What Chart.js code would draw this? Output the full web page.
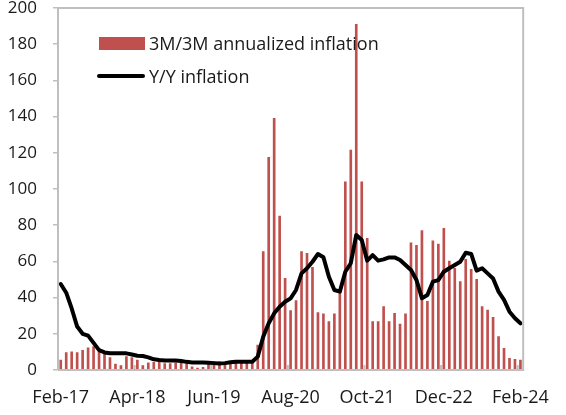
<!DOCTYPE html>
<html>
<head>
<meta charset="utf-8">
<script src="https://cdn.jsdelivr.net/npm/chart.js@4/dist/chart.umd.min.js"></script>
<style>
  body { margin: 0; background: #fff; }
  #wrap { position: relative; width: 566px; height: 415px; }
  .leg { position: absolute; font-family: "Open Sans", sans-serif; font-size: 18px; color: #1a1a1a; line-height: 20px; white-space: nowrap; }
  .sw-bar { position: absolute; left: 99px; top: 37px; width: 46px; height: 13px; background: #c0504d; }
  .sw-line { position: absolute; left: 97px; top: 74px; width: 48px; height: 4px; background: #000; border-radius: 2px; }
</style>
</head>
<body>
<div id="wrap">
  <canvas id="grafico"></canvas>
  <div class="sw-bar"></div>
  <div class="leg" style="left:149px; top:33px;">3M/3M annualized inflation</div>
  <div class="sw-line"></div>
  <div class="leg" style="left:149px; top:66px;">Y/Y inflation</div>
</div>
<script>
// meses de Feb-17 a Feb-24 (85 pontos mensais)
const nomesMes = ['Jan', 'Feb', 'Mar', 'Apr', 'May', 'Jun', 'Jul', 'Aug', 'Sep', 'Oct', 'Nov', 'Dec'];
const meses = [];
for (let i = 0; i < 85; i++) {
    const m = (1 + i) % 12;
    const a = 17 + Math.floor((1 + i) / 12);
    meses.push(nomesMes[m] + '-' + a);
}

// 3M/3M annualized inflation (barras)
const inflacao3m = [
    5.5, 9.6, 10.1, 9.6, 10.9, 12.2, 12.9, 10, 9.2, 6.8,
    3.3, 2.4, 7.4, 6.8, 5.5, 2.4, 4, 4.2, 4.2, 3.6,
    3.6, 4, 4, 4, 1.8, 1, 1.5, 3.5, 4.5, 4.5,
    3.5, 3.5, 4.5, 4.5, 4, 3.5, 13.8, 65.4, 117.5, 139,
    85, 50.6, 32.8, 38.3, 65.4, 64.5, 56.7, 31.7, 31, 26.7,
    31, 43, 104, 121.5, 191, 104, 72.7, 26.7, 26.7, 35,
    26.7, 31.3, 25.4, 31, 70.3, 68.9, 77, 38, 71.4, 69.6,
    78.3, 60.2, 56.2, 48.8, 61.1, 55.6, 50.1, 35, 33.1, 29.1,
    18.4, 12, 6.4, 5.9, 5.5
];

// Y/Y inflation (linha)
const inflacaoAnual = [
    47.5, 42.7, 34, 24, 20, 19, 15, 11, 9.7, 9.2,
    9.2, 9.2, 9.2, 8.6, 7.9, 7.7, 7, 5.9, 5.5, 5.2,
    5.2, 5.2, 5, 4.5, 4.2, 4.2, 4.2, 4, 3.8, 3.6,
    3.8, 4.3, 4.6, 4.6, 4.6, 4.6, 7.4, 18.4, 25.8, 31.3,
    35, 37.7, 39.6, 44.2, 53.4, 56.2, 59.8, 64.1, 62.3, 51.5,
    44.2, 43.3, 54.3, 59, 74.6, 71.8, 60.4, 63.5, 60.4, 61.1,
    62.2, 62.2, 60.8, 58, 55.2, 49.7, 39.6, 41.4, 48.8, 49.7,
    54.3, 56.2, 58, 59.8, 64.8, 64.1, 54.9, 56.2, 53.4, 50.6,
    43.3, 38.7, 32.2, 28.6, 25.8
];

const ticksY = [0, 20, 40, 60, 80, 100, 120, 140, 160, 180, 200];
const passoRotulo = 14;

// moldura cinza (topo e direita) e marcas internas no eixo x
const moldura = {
    id: 'moldura',
    afterDraw(chart) {
        const { ctx, chartArea: a, scales: { x } } = chart;
        ctx.save();
        ctx.strokeStyle = '#bfbfbf';
        ctx.lineWidth = 2;
        ctx.beginPath();
        ctx.moveTo(a.left, a.bottom);
        ctx.lineTo(a.left, a.top);
        ctx.lineTo(a.right, a.top);
        ctx.lineTo(a.right, a.bottom);
        ctx.lineTo(a.left, a.bottom);
        for (let i = passoRotulo; i < meses.length; i += passoRotulo) {
            const bx = (x.getPixelForValue(i - 1) + x.getPixelForValue(i)) / 2;
            ctx.moveTo(bx, a.bottom);
            ctx.lineTo(bx, a.bottom - 5);
        }
        ctx.stroke();
        ctx.restore();
    }
};

const fonteY = { family: '"Open Sans", sans-serif', size: 17 };
const fonteX = { family: '"Open Sans", sans-serif', size: 18 };

new Chart(document.getElementById('grafico'), {
    type: 'bar',
    data: {
        labels: meses,
        datasets: [
            {
                type: 'line',
                label: 'Y/Y inflation',
                data: inflacaoAnual,
                borderColor: '#000',
                borderWidth: 4,
                pointRadius: 0,
                tension: 0,
                borderJoinStyle: 'round',
                borderCapStyle: 'round',
                order: 0
            },
            {
                label: '3M/3M annualized inflation',
                data: inflacao3m,
                backgroundColor: '#c0504d',
                barThickness: 2,
                order: 1
            }
        ]
    },
    options: {
        responsive: true,
        maintainAspectRatio: false,
        animation: false,
        layout: { padding: { left: 0, right: 28, top: 8, bottom: 0 } },
        plugins: { legend: { display: false }, tooltip: { enabled: false } },
        scales: {
            x: {
                grid: { display: false, drawTicks: false },
                border: { display: false },
                ticks: {
                    autoSkip: false,
                    maxRotation: 0,
                    padding: 17,
                    color: '#1a1a1a',
                    font: fonteX,
                    callback: (v, i) => i % passoRotulo === 0 ? meses[i] : ''
                },
                afterFit(scale) { scale.height = 45; scale.paddingTop = 0; scale.paddingBottom = 0; }
            },
            y: {
                min: 0,
                max: 200,
                afterBuildTicks(scale) { scale.ticks = ticksY.map(v => ({ value: v })); },
                grid: { drawOnChartArea: false, drawTicks: true, tickLength: 5, color: '#bfbfbf', lineWidth: 1.5 },
                border: { display: false },
                ticks: { padding: 16, color: '#1a1a1a', font: fonteY },
                afterFit(scale) { scale.width = 58; scale.paddingTop = 0; scale.paddingBottom = 0; }
            }
        }
    },
    plugins: [moldura]
});
</script>
</body>
</html>
